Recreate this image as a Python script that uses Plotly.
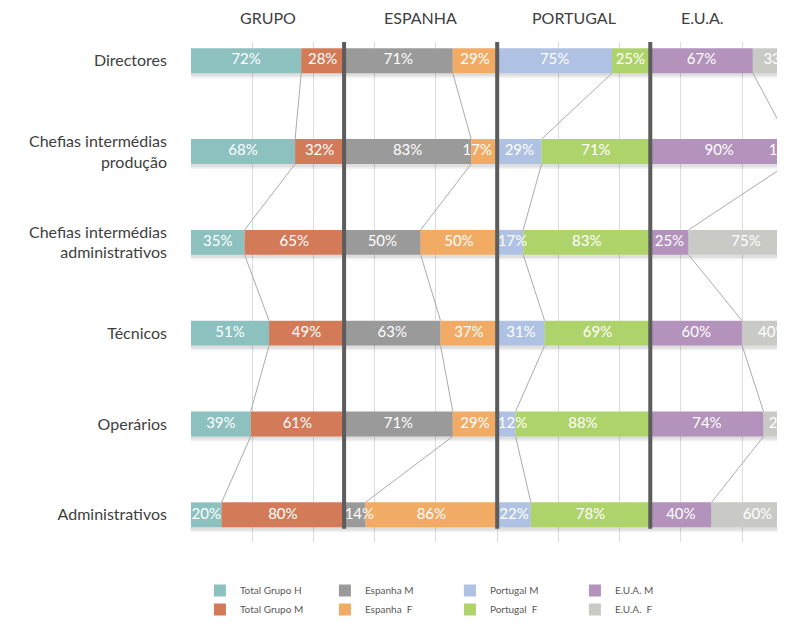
import plotly.graph_objects as go

categorias = ["Directores", "Chefias intermédias<br>produção", "Chefias intermédias<br>administrativos",
              "Técnicos", "Operários", "Administrativos"]
grupos = ["GRUPO", "ESPANHA", "PORTUGAL", "E.U.A."]

grupo_h = [72, 68, 35, 51, 39, 20]
grupo_m = [28, 32, 65, 49, 61, 80]
espanha_m = [71, 83, 50, 63, 71, 14]
espanha_f = [29, 17, 50, 37, 29, 86]
portugal_m = [75, 29, 17, 31, 12, 22]
portugal_f = [25, 71, 83, 69, 88, 78]
eua_m = [67, 90, 25, 60, 74, 40]
eua_f = [33, 10, 75, 40, 26, 60]

series = [
    ("Total Grupo H", grupo_h, "#8CC1BF", "Total Grupo M", grupo_m, "#D37B59"),
    ("Espanha M", espanha_m, "#9A9A9A", "Espanha\u00a0 F", espanha_f, "#F2AB64"),
    ("Portugal M", portugal_m, "#AFC2E3", "Portugal\u00a0 F", portugal_f, "#AFD36B"),
    ("E.U.A. M", eua_m, "#B392BC", "E.U.A.\u00a0 F", eua_f, "#C9CAC6"),
]

FONT = "Lato"
BAR_W = 0.274
rows = list(range(len(categorias)))

fig = go.Figure()

# soft shadow under every bar
for g, (_, v1, _, _, v2, _) in enumerate(series):
    total = [a + b for a, b in zip(v1, v2)]
    for dy, alpha in [(0.055, 0.05), (0.035, 0.08)]:
        fig.add_trace(go.Bar(
            y=rows, x=total, base=[g * 100] * len(rows), orientation="h",
            width=BAR_W, offset=-BAR_W / 2 + dy,
            marker=dict(color=f"rgba(0,0,0,{alpha})", line_width=0),
            showlegend=False, hoverinfo="skip",
        ))

# connector lines between H/M boundaries
for g, (_, v1, _, _, _, _) in enumerate(series):
    lx, ly = [], []
    for i in range(len(rows) - 1):
        lx += [g * 100 + v1[i], g * 100 + v1[i + 1], None]
        ly += [i + BAR_W / 2, i + 1 - BAR_W / 2, None]
    fig.add_trace(go.Scatter(x=lx, y=ly, mode="lines", line=dict(color="#ABABAB", width=1),
                             showlegend=False, hoverinfo="skip"))

# stacked bars
for g, (n1, v1, c1, n2, v2, c2) in enumerate(series):
    fig.add_trace(go.Bar(
        name=n1, y=rows, x=v1, base=[g * 100] * len(rows), orientation="h",
        width=BAR_W, offset=-BAR_W / 2, marker=dict(color=c1, line_width=0),
        legendrank=1 + g, textposition="none",
    ))
    fig.add_trace(go.Bar(
        name=n2, y=rows, x=v2, base=[g * 100 + a for a in v1], orientation="h",
        width=BAR_W, offset=-BAR_W / 2, marker=dict(color=c2, line_width=0),
        legendrank=5 + g, textposition="none",
    ))

# value labels
for g, (_, v1, _, _, v2, _) in enumerate(series):
    tx, ty, tt = [], [], []
    for i in rows:
        start = g * 100
        for b, v in [(start, v1[i]), (start + v1[i], v2[i])]:
            cx = min(max(b + v / 2, start + 10), start + 87)
            tx.append(cx)
            ty.append(i)
            tt.append(f"{v}%")
    fig.add_trace(go.Scatter(x=tx, y=ty, text=tt, mode="text",
                             textfont=dict(color="white", size=15, family=FONT),
                             showlegend=False, hoverinfo="skip"))

# thick dividers between groups
for g in range(1, len(grupos)):
    fig.add_shape(type="line", xref="x", yref="y", x0=g * 100, x1=g * 100,
                  y0=-0.21, y1=5.155, line=dict(color="#5C5C5C", width=4), layer="above")

title_x = [50, 150, 250, 334]
for name, x in zip(grupos, title_x):
    fig.add_annotation(text=name, x=x, xref="x", y=1.048, yref="paper", showarrow=False,
                       xanchor="center", yanchor="middle",
                       font=dict(size=16, color="#404040", family=FONT))

# page body has an 8px margin, so the figure is 8px smaller than the window
fig.update_layout(
    width=777, height=616,
    margin=dict(l=183, r=0, t=34, b=80),
    barmode="overlay",
    paper_bgcolor="white", plot_bgcolor="white",
    font=dict(family=FONT),
    xaxis=dict(range=[0, 388], dtick=40, tick0=0, showgrid=True, gridcolor="#DCDCDC", gridwidth=1,
               showticklabels=False, zeroline=False, showline=False),
    yaxis=dict(range=[5.30, -0.206], tickvals=rows, ticktext=categorias, showgrid=False,
               zeroline=False, tickfont=dict(size=16, color="#404040", family=FONT),
               ticklabelstandoff=23),
    legend=dict(orientation="h", x=0.015, xanchor="left", y=-0.068, yanchor="top",
                font=dict(size=10, color="#595959", family=FONT),
                entrywidth=80, entrywidthmode="pixels", traceorder="normal"),
)

fig.write_html("out.html")
